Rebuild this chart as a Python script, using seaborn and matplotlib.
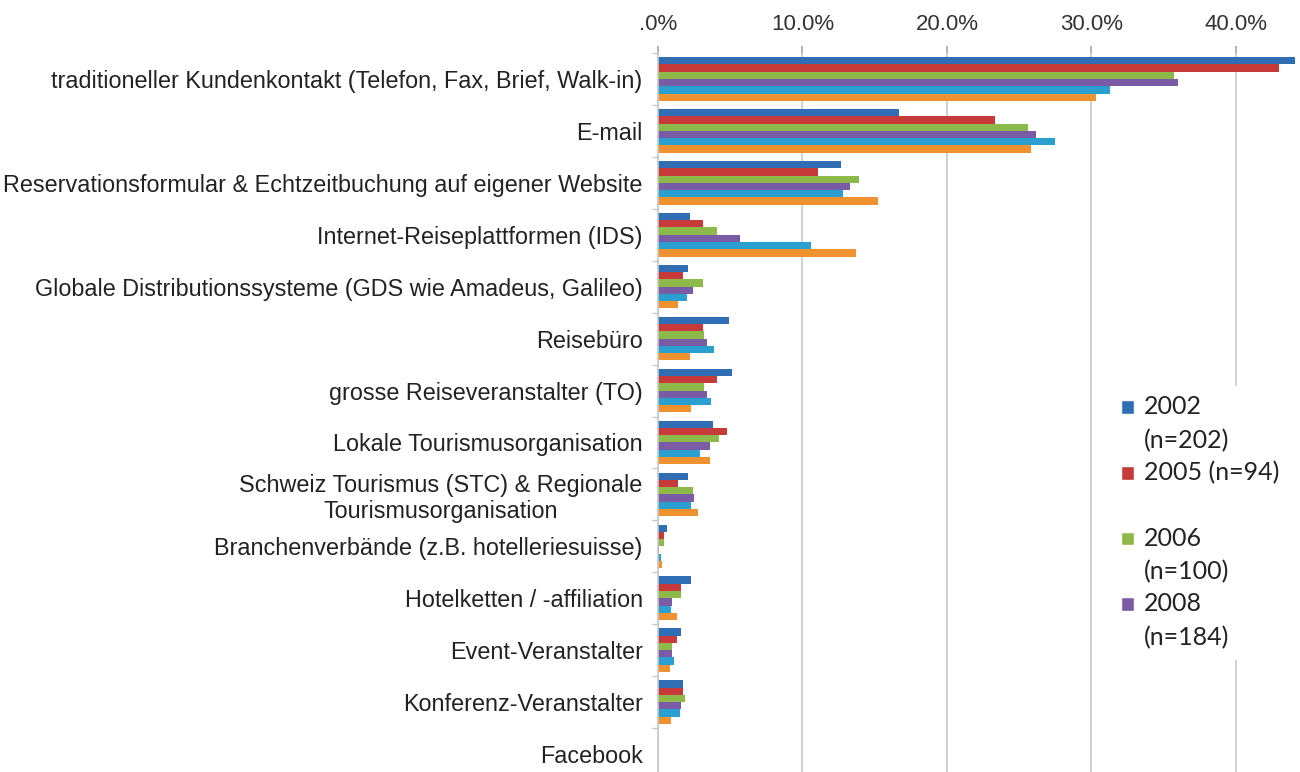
import matplotlib
matplotlib.use("Agg")
import matplotlib.pyplot as plt
import seaborn as sns
import pandas as pd
import numpy as np
from matplotlib.patches import Patch, Rectangle
from matplotlib.legend_handler import HandlerPatch
from matplotlib.ticker import FuncFormatter, FixedLocator

categories = [
    "traditioneller Kundenkontakt (Telefon, Fax, Brief, Walk-in)",
    "E-mail",
    "Reservationsformular & Echtzeitbuchung auf eigener Website",
    "Internet-Reiseplattformen (IDS)",
    "Globale Distributionssysteme (GDS wie Amadeus, Galileo)",
    "Reisebüro",
    "grosse Reiseveranstalter (TO)",
    "Lokale Tourismusorganisation",
    "Schweiz Tourismus (STC) & Regionale\nTourismusorganisation",
    "Branchenverbände (z.B. hotelleriesuisse)",
    "Hotelketten / -affiliation",
    "Event-Veranstalter",
    "Konferenz-Veranstalter",
    "Facebook",
]

series_names = ["2002", "2005", "2006", "2008", "2009", "2010"]
legend_labels = ["2002\n(n=202)", "2005 (n=94)\n ", "2006\n(n=100)", "2008\n(n=184)"]

v2002 = [44.1, 16.7, 12.7, 2.2, 2.1, 4.9, 5.1, 3.8, 2.1, 0.6, 2.3, 1.6, 1.7, 0.0]
v2005 = [43.0, 23.3, 11.1, 3.1, 1.7, 3.1, 4.1, 4.8, 1.4, 0.4, 1.6, 1.3, 1.7, 0.0]
v2006 = [35.7, 25.6, 13.9, 4.1, 3.1, 3.2, 3.2, 4.2, 2.4, 0.4, 1.6, 1.0, 1.85, 0.0]
v2008 = [36.0, 26.2, 13.3, 5.7, 2.4, 3.4, 3.4, 3.6, 2.5, 0.1, 1.0, 1.0, 1.6, 0.0]
v2009 = [31.3, 27.5, 12.8, 10.6, 2.0, 3.9, 3.7, 2.9, 2.3, 0.2, 0.9, 1.1, 1.5, 0.0]
v2010 = [30.3, 25.8, 15.2, 13.7, 1.4, 2.2, 2.3, 3.6, 2.8, 0.3, 1.3, 0.8, 0.9, 0.0]

colors = ["#2F6DB5", "#C63A3A", "#8DB94A", "#7A5BA6", "#2A9FD0", "#F0922F"]

all_vals = [v2002, v2005, v2006, v2008, v2009, v2010]
rows = []
for name, vals in zip(series_names, all_vals):
    for c, v in zip(categories, vals):
        rows.append({"Kategorie": c, "Jahr": name, "Wert": v})
df = pd.DataFrame(rows)

sns.set_theme(style="white")
plt.rcParams["font.family"] = ["Liberation Sans", "DejaVu Sans"]

fig = plt.figure(figsize=(13, 7.72), dpi=100)
ax = fig.add_axes([658 / 1300, 1 - 780 / 772, (1300 - 658) / 1300, (780 - 53) / 772])

sns.barplot(data=df, y="Kategorie", x="Wert", hue="Jahr", order=categories,
            hue_order=series_names, palette=colors, orient="h", width=0.84,
            saturation=1, ax=ax, legend=False, linewidth=0)

ax.set_xlim(0, (1300 - 660) / 14.4)
ax.xaxis.set_major_locator(FixedLocator([0, 10, 20, 30, 40]))
ax.xaxis.set_major_formatter(FuncFormatter(lambda x, p: ".0%" if x == 0 else f"{x:.1f}%"))
ax.xaxis.tick_top()
ax.tick_params(axis="x", top=True, bottom=False, length=5, color="#aaaaaa",
               labelsize=16, labelcolor="#333333", pad=8)
ax.grid(axis="x", color="#c8c8c8", linewidth=1.2)
ax.set_axisbelow(True)
ax.set_xlabel("")
ax.set_ylabel("")

for s in ["top", "right", "bottom"]:
    ax.spines[s].set_visible(False)
ax.spines["left"].set_color("#c8c8c8")
ax.spines["left"].set_linewidth(1.2)

ax.tick_params(axis="y", left=False, labelsize=16.8, labelcolor="#222222", pad=5)
ax.set_yticks(np.arange(-0.5, len(categories), 1), minor=True)
ax.tick_params(axis="y", which="minor", left=True, length=4, color="#c8c8c8")
for lab in ax.get_yticklabels():
    lab.set_multialignment("center")


def top_square(legend, orig_handle, xdescent, ydescent, width, height, fontsize):
    side = width
    return Rectangle((-xdescent, -ydescent + height - side + 0.35 * fontsize), side, side)


handles = [Patch(facecolor=c) for c in colors[:4]]
leg = ax.legend(handles, legend_labels, loc="upper left",
                bbox_to_anchor=((1098 - 658) / (1300 - 658), 1 - (373 - 53) / (780 - 53)),
                frameon=True, facecolor="white", edgecolor="white", framealpha=1,
                prop={"family": ["Lato", "DejaVu Sans"], "size": 18},
                handlelength=0.55, handleheight=1.6, handletextpad=0.4,
                labelspacing=0.35, borderpad=0.4,
                handler_map={Patch: HandlerPatch(patch_func=top_square)})
for t in leg.get_texts():
    t.set_color("#222222")
    t.set_linespacing(1.55)

fig.savefig("out.png", dpi=100, facecolor="white")
